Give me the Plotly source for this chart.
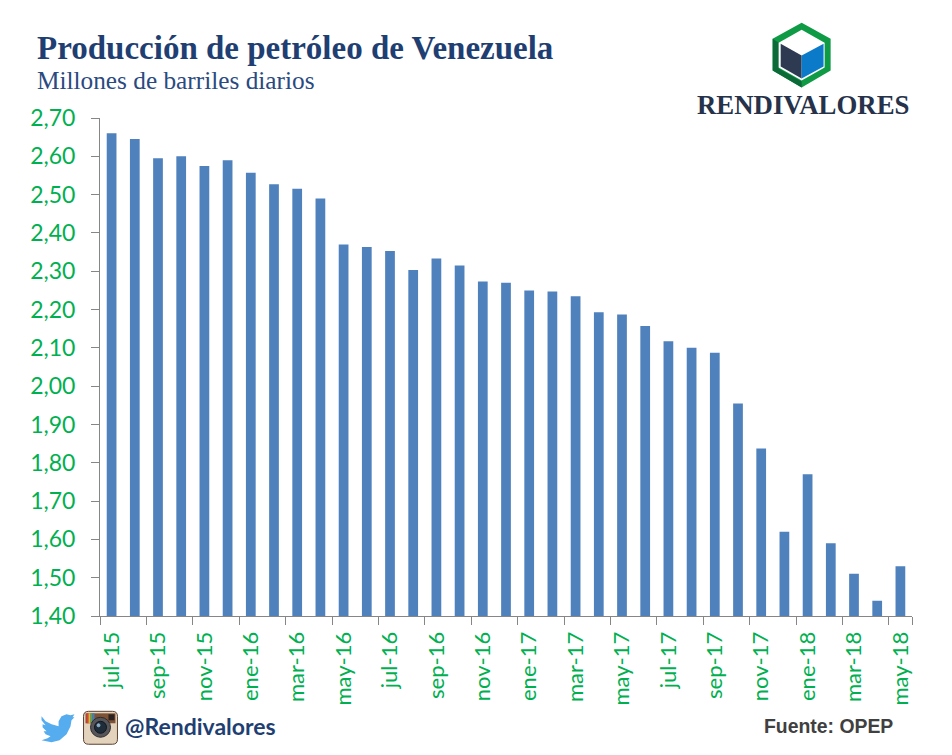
import plotly.graph_objects as go

months = ["jul-15","ago-15","sep-15","oct-15","nov-15","dic-15","ene-16","feb-16","mar-16","abr-16","may-16","jun-16",
          "jul-16","ago-16","sep-16","oct-16","nov-16","dic-16","ene-17","feb-17","mar-17","abr-17","may-17","jun-17",
          "jul-17","ago-17","sep-17","oct-17","nov-17","dic-17","ene-18","feb-18","mar-18","abr-18","may-18"]
production = [2.66,2.645,2.595,2.60,2.575,2.59,2.557,2.527,2.515,2.49,2.37,2.363,
              2.353,2.303,2.333,2.315,2.273,2.27,2.25,2.247,2.235,2.193,2.187,2.157,
              2.117,2.10,2.087,1.955,1.837,1.62,1.77,1.59,1.51,1.44,1.53]
y_ticks = [1.4,1.5,1.6,1.7,1.8,1.9,2.0,2.1,2.2,2.3,2.4,2.5,2.6,2.7]
y_labels = ["1,40","1,50","1,60","1,70","1,80","1,90","2,00","2,10","2,20","2,30","2,40","2,50","2,60","2,70"]
x_labels = months[::2]

W, H = 952, 755
L, R, T, B = 99.5, 912.5, 117.5, 616.5

def px(x): return (x - L) / (R - L)
def py(y): return (B - y) / (B - T)
def path(pts):
    return "M" + " L".join(f"{px(x):.4f},{py(y):.4f}" for x, y in pts) + " Z"
def poly(pts, color):
    return dict(type="path", xref="paper", yref="paper", path=path(pts), fillcolor=color, line_width=0, layer="above")
def rect(x0, y0, x1, y1, color):
    return dict(type="rect", xref="paper", yref="paper", x0=px(x0), x1=px(x1), y0=py(y1), y1=py(y0),
                fillcolor=color, line_width=0, layer="above")
def rounded(x0, y0, x1, y1, r, color, line):
    p = lambda x, y: f"{px(x):.4f},{py(y):.4f}"
    d = (f"M{p(x0+r,y0)} L{p(x1-r,y0)} Q{p(x1,y0)} {p(x1,y0+r)} L{p(x1,y1-r)} Q{p(x1,y1)} {p(x1-r,y1)} "
         f"L{p(x0+r,y1)} Q{p(x0,y1)} {p(x0,y1-r)} L{p(x0,y0+r)} Q{p(x0,y0)} {p(x0+r,y0)} Z")
    return dict(type="path", xref="paper", yref="paper", path=d, fillcolor=color,
                line=dict(color=line, width=1), layer="above")
def circle(cx, cy, r, color, line=None):
    return dict(type="circle", xref="paper", yref="paper", x0=px(cx-r), x1=px(cx+r), y0=py(cy+r), y1=py(cy-r),
                fillcolor=color, line=dict(color=line or color, width=1), layer="above")

shapes = [
    # cube logo
    poly([(802,22),(831,38),(831,70),(802,87),(773,70),(773,38)], "#0f9a45"),
    poly([(773,38),(779,42),(779,68),(802,81),(802,87),(773,70)], "#0b6a38"),
    poly([(802,29),(825,42),(825,67),(802,80),(779,67),(779,42)], "#ffffff"),
    poly([(781,43),(802,55),(802,78),(781,66)], "#2e3a52"),
    poly([(802,55),(824,43),(824,66),(802,78)], "#0b7bc9"),
    # twitter bird
    poly([(41,717),(45,722),(51,725),(58,727),(58,722),(61,717),(66,715),(70,716),(74,715),(72,718),(74,718),
          (71,721),(70,727),(66,735),(59,741),(51,743),(41,741),(47,739),(50,737),(45,735),(43,732),(46,732),
          (42,728),(42,725),(45,726),(41,721)], "#55acee"),
    # instagram icon
    rounded(83, 712, 117, 745, 5, "#e3d3bd", "#5d4030"),
    rect(85, 714, 115, 724, "#7f5236"),
    rect(86, 714, 88, 724, "#d8433a"),
    rect(88, 714, 90, 724, "#e8b23a"),
    rect(90, 714, 92, 724, "#5aa35a"),
    rect(92, 714, 94, 724, "#3f7fbf"),
    rect(108, 715, 114, 721, "#2c2320"),
    circle(100, 728, 10, "#56565a", "#2b2b2e"),
    circle(100, 728, 6, "#1f2d3a", "#10161c"),
    circle(98, 726, 1.5, "#8fb0c8"),
]

def note(x, y, text, size, color, family, bold=False, anchor="left"):
    return dict(xref="paper", yref="paper", x=px(x), y=py(y), xanchor=anchor, yanchor="middle", showarrow=False,
                text=f"<b>{text}</b>" if bold else text, font=dict(size=size, color=color, family=family))

annotations = [
    note(34, 47.5, "Producción de petróleo de Venezuela", 33, "#1f3f73", "Liberation Serif", True),
    note(34, 79, "Millones de barriles diarios", 25.3, "#2a4a80", "Liberation Serif"),
    note(695, 104, "RENDIVALORES", 26.8, "#25324a", "Liberation Serif", True),
    note(123, 727, "@Rendivalores", 23, "#1f3f73", "Lato", True),
    note(762, 727, "Fuente: OPEP", 19.4, "#404040", "Liberation Sans", True),
]

fig = go.Figure(go.Bar(x=months, y=production, marker=dict(color="#4f81bd", line_width=0), width=0.42))
fig.update_layout(
    width=W, height=H, margin=dict(l=L, r=W-R, t=T, b=H-B, pad=0, autoexpand=False),
    paper_bgcolor="white", plot_bgcolor="white", showlegend=False,
    shapes=shapes, annotations=annotations,
)
fig.update_xaxes(type="category", categoryorder="array", categoryarray=months,
                 tickmode="array", tickvals=x_labels, ticktext=x_labels, tickson="boundaries",
                 tickangle=-90, ticks="outside", ticklen=8, tickcolor="#868686", tickwidth=1,
                 showline=True, linecolor="#868686", linewidth=1, showgrid=False, ticklabelstandoff=6,
                 tickfont=dict(family="Lato", size=22, color="#00b050"))
fig.update_yaxes(range=[1.4,2.7], tickmode="array", tickvals=y_ticks, ticktext=y_labels,
                 ticks="outside", ticklen=8, tickcolor="#868686", tickwidth=1, ticklabelstandoff=11,
                 showline=True, linecolor="#868686", linewidth=1, showgrid=False, zeroline=False,
                 tickfont=dict(family="Lato", size=23, color="#00b050"))
fig.write_html("out.html", post_script="document.body.style.margin='0';", config={"displayModeBar": False})
